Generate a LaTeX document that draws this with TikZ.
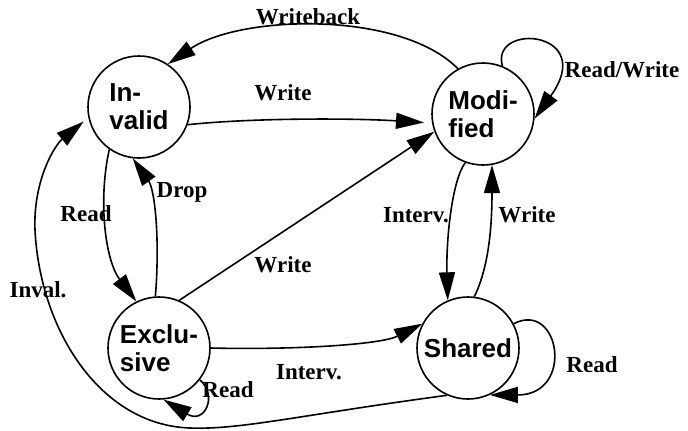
\documentclass[tikz,border=0pt]{standalone}
\usepackage{fontspec}
\setmainfont{Liberation Serif}
\newfontfamily\statefont{Liberation Sans}
\usetikzlibrary{arrows.meta}
\begin{document}
\begin{tikzpicture}[x=1pt,y=-1pt,
  state/.style={draw, circle, line width=1.6pt, minimum size=102pt, inner sep=0pt,
    font=\statefont\bfseries\fontsize{26}{28}\selectfont, align=left},
  lbl/.style={font=\bfseries\fontsize{23}{24}\selectfont, inner sep=0pt},
  conn/.style={line width=1.6pt, -{Triangle[length=28pt,width=16pt]}}]
\useasboundingbox[fill=white] (0,0) rectangle (688,431);

\node[state] (inv) at (139,107) {In-\\valid};
\node[state] (mod) at (483,114) {Modi-\\fied};
\node[state] (exc) at (159,348) {Exclu-\\sive};
\node[state] (sh) at (468,348) {Shared};

\node[lbl] (lwb) at (308,17) {Writeback};
\node[lbl] (lw1) at (283,93) {Write};
\node[lbl] (lrw) at (622,70) {Read/Write};
\node[lbl] (ldr) at (182,192) {Drop};
\node[lbl] (lrd) at (86,214) {Read};
\node[lbl] (lw2) at (283,265) {Write};
\node[lbl] (linv) at (38,290) {Inval.};
\node[lbl] (li1) at (309,372) {Interv.};
\node[lbl] (li2) at (416,215) {Interv.};
\node[lbl] (lw3) at (527,215) {Write};
\node[lbl] (lr2) at (592,365) {Read};
\node[lbl] (lr3) at (228,390) {Read};

% Writeback
\draw[conn] (mod.119) .. controls (400,10) and (240,15) .. (inv.56);
% Write Invalid -> Modified
\draw[conn, shorten >=8pt] (inv.-20) .. controls (250,118) and (350,118) .. (mod.190);
% Read/Write loop
\draw[conn] (mod.68) .. controls (490,22) and (598,30) .. (mod.-5);
% Read Invalid -> Exclusive
\draw[conn] (inv.-125) .. controls (98,200) and (105,260) .. (exc.116);
% Drop Exclusive -> Invalid
\draw[conn] (exc.94) .. controls (160,240) and (155,190) .. (inv.-97);
% Write Exclusive -> Modified
\draw[conn] (exc.67) -- (mod.200);
% Inval. Shared -> Invalid
\draw[conn, shorten >=6pt] (sh.-114) .. controls (300,415) and (240,430) .. (190,428)
   .. controls (100,425) and (40,330) .. (35,230)
   .. controls (33,180) and (55,145) .. (inv.192);
% Interv. Exclusive -> Shared
\draw[conn] (exc.0) .. controls (290,350) and (380,345) .. (sh.152);
% Interv. Modified -> Shared
\draw[conn] (mod.-110) .. controls (452,180) and (446,240) .. (sh.113);
% Write Shared -> Modified
\draw[conn] (sh.83) .. controls (490,265) and (492,220) .. (mod.-80);
% Read loop Shared
\draw[conn] (sh.28) .. controls (560,300) and (575,395) .. (sh.-65);
% Read loop Exclusive
\draw[conn] (exc.-38) .. controls (218,395) and (205,425) .. (exc.-85);
\end{tikzpicture}
\end{document}
